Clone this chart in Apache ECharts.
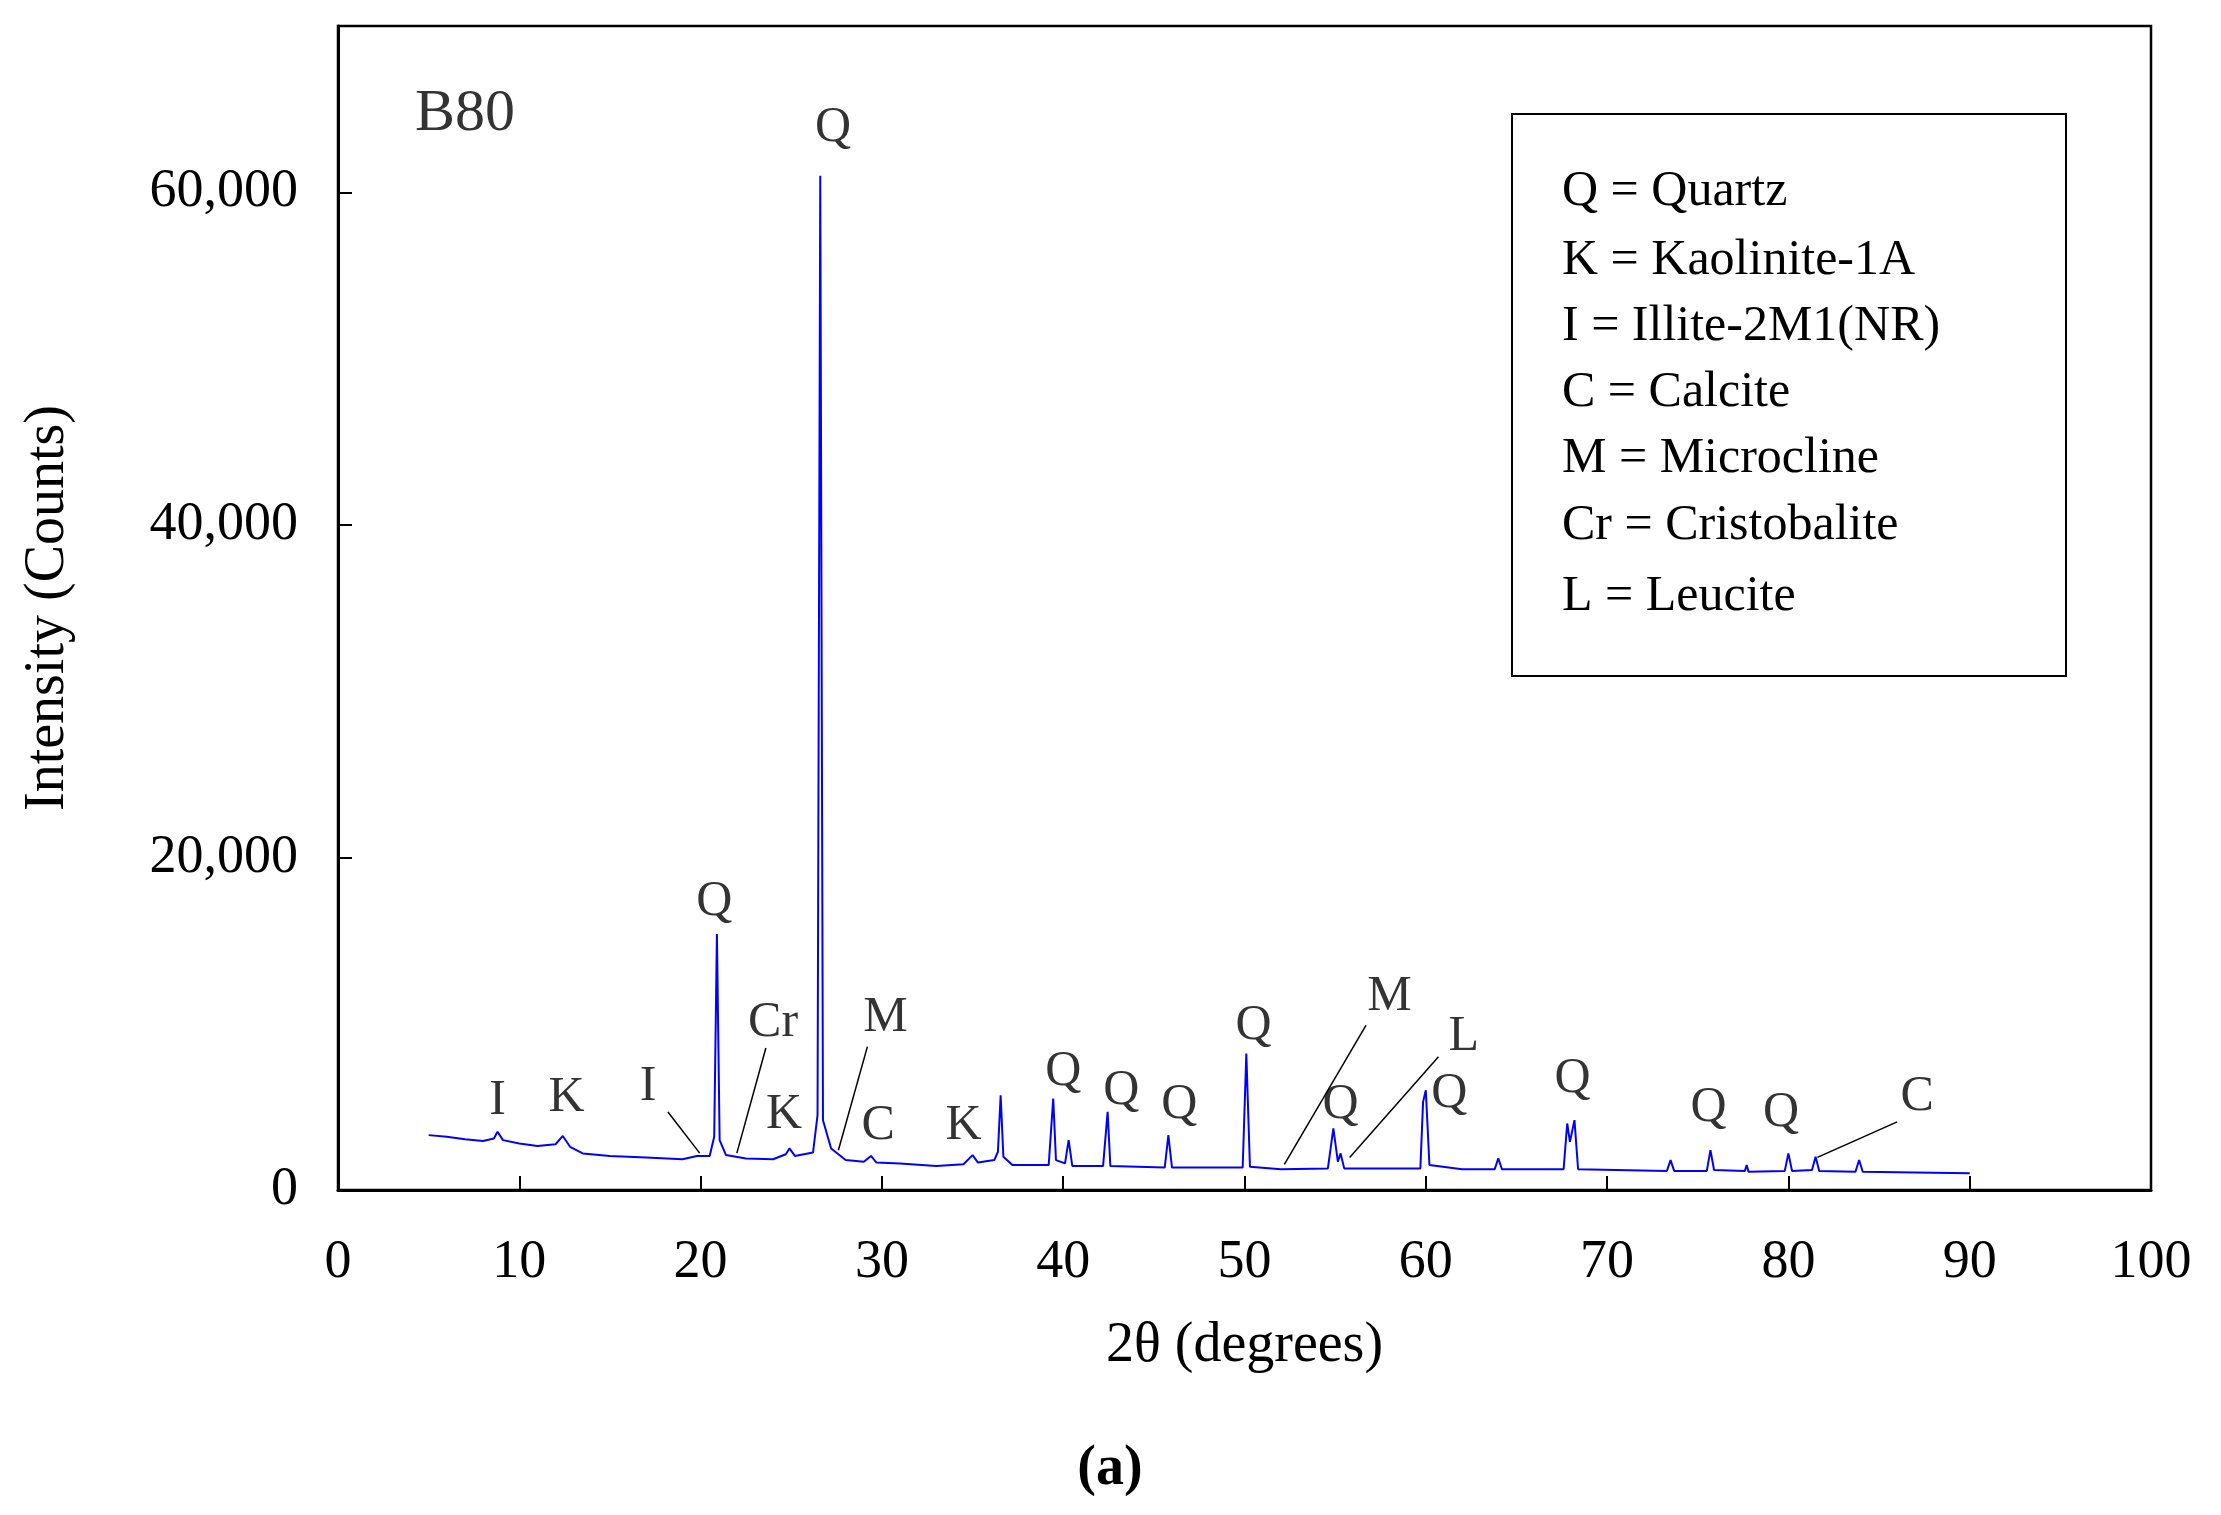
<!DOCTYPE html>
<html>
<head>
<meta charset="UTF-8">
<title>B80 XRD</title>
<script src="https://cdn.jsdelivr.net/npm/echarts@6/dist/echarts.min.js"></script>
<style>html,body{margin:0;background:#fff}</style>
</head>
<body>
<div id="main" style="width:2221px;height:1515px;"></div>
<script>
// diffractogram points [2theta, counts]
var pattern = [
  [5,3300],[6,3200],[7,3050],[8,2950],[8.6,3100],[8.8,3500],[9.1,3000],[10,2800],[11,2650],
  [12,2750],[12.4,3250],[12.8,2600],[13.5,2200],[15,2050],[17,1950],[19,1850],[19.8,2050],
  [20.5,2050],[20.75,3200],[20.9,15400],[21.05,3000],[21.4,2100],[22.5,1900],[24,1850],
  [24.7,2150],[24.9,2500],[25.2,2050],[26.2,2250],[26.45,4500],[26.6,61000],[26.75,4200],
  [27.2,2500],[28,1800],[29,1700],[29.4,2050],[29.7,1650],[31,1600],[33,1450],[34.5,1550],
  [35,2100],[35.3,1650],[36.2,1800],[36.4,2300],[36.55,5700],[36.7,2000],[37.2,1500],
  [39.2,1500],[39.45,5500],[39.6,1800],[40.1,1600],[40.3,3000],[40.5,1450],[42.2,1450],
  [42.45,4700],[42.6,1450],[45.6,1350],[45.8,3300],[46.0,1350],[49.9,1350],[50.1,8200],
  [50.3,1400],[52,1250],[54.6,1300],[54.9,3700],[55.15,1700],[55.3,2200],[55.5,1300],
  [59.7,1300],[59.85,5300],[60.0,6000],[60.2,1500],[62,1250],[63.8,1250],[64,1900],[64.2,1250],
  [67.6,1250],[67.8,4000],[67.95,2900],[68.2,4200],[68.4,1250],[73.3,1150],[73.5,1800],
  [73.7,1150],[75.5,1150],[75.7,2400],[75.9,1200],[77.6,1150],[77.7,1500],[77.8,1100],
  [79.8,1150],[80,2200],[80.2,1150],[81.3,1200],[81.5,2000],[81.7,1150],[83.7,1100],
  [83.9,1800],[84.1,1100],[87,1050],[90,1000]
];

// peak labels [x, y, text]
var peakLabels = [
  [7.0,64700,'B80'],
  [27.3,63850,'Q'],[20.75,17300,'Q'],[24.0,10070,'Cr'],[30.2,10330,'M'],
  [8.8,5380,'I'],[12.6,5550,'K'],[17.1,6230,'I'],[24.6,4520,'K'],[29.8,3840,'C'],
  [34.5,3840,'K'],[40.0,7080,'Q'],[43.2,5975,'Q'],[46.4,5120,'Q'],[50.5,9900,'Q'],
  [58.0,11600,'M'],[62.1,9220,'L'],[55.3,5120,'Q'],[61.3,5800,'Q'],[68.1,6660,'Q'],
  [75.6,4950,'Q'],[79.6,4610,'Q'],[87.1,5630,'C']
];

// leader lines [[x1,y1],[x2,y2]]
var leaders = [
  [[18.2,4690],[19.95,2220]],
  [[23.6,8540],[22.0,2220]],
  [[29.2,8620],[27.6,2390]],
  [[56.7,9900],[52.2,1540]],
  [[60.7,8020],[55.8,1960]],
  [[86.0,4100],[81.6,1960]]
];

var legendLines = ['Q = Quartz','K = Kaolinite-1A','I = Illite-2M1(NR)','C = Calcite',
  'M = Microcline','Cr = Cristobalite','L = Leucite'];
var legendY = [192,261,327,393,459,526,597];

var font = 'Liberation Serif';
var chart = echarts.init(document.getElementById('main'));

var graphics = [{
  type: 'rect', shape: {x: 338, y: 26, width: 1813, height: 1164},
  style: {fill: 'none', stroke: '#000', lineWidth: 2.5}
}, {
  type: 'rect', shape: {x: 1512, y: 114, width: 554, height: 562},
  style: {fill: '#fff', stroke: '#000', lineWidth: 2}
}];
legendLines.forEach(function (t, i) {
  graphics.push({type: 'text', x: 1562, y: legendY[i],
    style: {text: t, font: '50px "' + font + '"', fill: '#000', textVerticalAlign: 'middle'}});
});
graphics.push({type: 'text', x: 1110, y: 1470,
  style: {text: '(a)', font: 'bold 56px "' + font + '"', fill: '#000',
    textAlign: 'center', textVerticalAlign: 'middle'}});

chart.setOption({
  animation: false,
  grid: {left: 338, right: 70, top: 26, bottom: 325},
  xAxis: {
    type: 'value', min: 0, max: 100, interval: 10,
    name: '2θ (degrees)', nameLocation: 'middle', nameGap: 128,
    nameTextStyle: {fontFamily: font, fontSize: 56, color: '#000'},
    axisLine: {onZero: false, lineStyle: {color: '#000', width: 3}},
    axisTick: {inside: true, length: 14, lineStyle: {color: '#000', width: 2}},
    axisLabel: {fontFamily: font, fontSize: 54, color: '#000', margin: 46},
    splitLine: {show: false}
  },
  yAxis: {
    type: 'value', min: 0, max: 70000, interval: 20000,
    name: 'Intensity (Counts)', nameLocation: 'middle', nameGap: 262,
    nameTextStyle: {fontFamily: font, fontSize: 56, color: '#000'},
    axisLine: {show: true, lineStyle: {color: '#000', width: 3}},
    axisTick: {inside: true, length: 14, lineStyle: {color: '#000', width: 2}},
    axisLabel: {fontFamily: font, fontSize: 54, color: '#000', margin: 40, showMaxLabel: false,
      formatter: function (v) { return v.toLocaleString('en-US'); }},
    splitLine: {show: false}
  },
  graphic: graphics,
  series: [{
    type: 'line', data: pattern, symbol: 'none',
    lineStyle: {color: '#0000ff', width: 2},
    markLine: {
      silent: true, symbol: 'none', animation: false,
      lineStyle: {color: '#000', width: 1.5, type: 'solid'}, label: {show: false},
      data: leaders.map(function (l) { return [{coord: l[0]}, {coord: l[1]}]; })
    }
  }, {
    type: 'scatter', symbolSize: 0, silent: true,
    data: peakLabels.map(function (p) {
      return {value: [p[0], p[1]], name: p[2], label: p[2] === 'B80' ? {fontSize: 60} : {}};
    }),
    label: {show: true, position: 'inside', formatter: '{b}', color: '#000', fontFamily: font,
      fontSize: 50},
    labelLayout: {hideOverlap: false}
  }]
});
</script>
</body>
</html>
